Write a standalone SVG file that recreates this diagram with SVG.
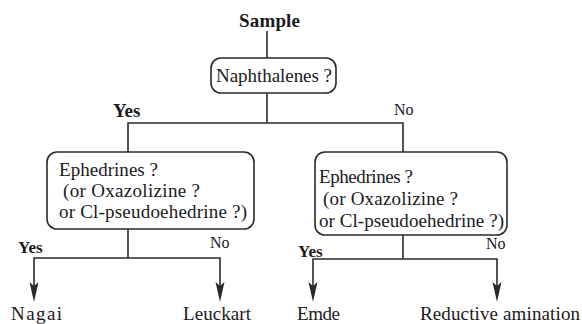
<svg xmlns="http://www.w3.org/2000/svg" width="582" height="324" viewBox="0 0 582 324" font-family="'Liberation Serif', Tinos, 'Noto Serif', 'DejaVu Serif', FreeSerif, 'Nimbus Roman', Times, serif">
<defs>
<style>
text{font-family:'Liberation Serif',Tinos,'Noto Serif','DejaVu Serif',FreeSerif,'Nimbus Roman',Times,serif;font-size:19px;fill:#1a1a1a}
.b{font-weight:bold;font-size:17px}
.s{font-size:16px}
.box{fill:#fff;stroke:#2a2a2a;stroke-width:1.6}
.ln{fill:none;stroke:#2a2a2a;stroke-width:1.6}
.ah{fill:#2a2a2a}
</style>
</defs>
<rect width="582" height="324" fill="#fff"/>
<g id="connectors">
<line class="ln" x1="267" y1="31" x2="267" y2="58"/>
<line class="ln" x1="267" y1="93" x2="267" y2="123"/>
<polyline class="ln" points="128,152 128,123 403,123 403,152"/>
<line class="ln" x1="128" y1="229" x2="128" y2="258"/>
<polyline class="ln" points="34,286 34,258 220,258 220,286"/>
<path class="ah" d="M29.5,282 L34,302 L38.5,282 L34,286 Z"/>
<path class="ah" d="M215.5,282 L220,302 L224.5,282 L220,286 Z"/>
<line class="ln" x1="403" y1="235" x2="403" y2="259"/>
<polyline class="ln" points="313,286 313,259 497,259 497,286"/>
<path class="ah" d="M308.5,282 L313,302 L317.5,282 L313,286 Z"/>
<path class="ah" d="M492.5,282 L497,302 L501.5,282 L497,286 Z"/>
<text class="b" x="113" y="117" style="font-size:19px">Yes</text>
<text class="s" x="394" y="115">No</text>
<text class="b" x="18" y="253">Yes</text>
<text class="s" x="210" y="248">No</text>
<text class="b" x="298" y="257">Yes</text>
<text class="s" x="486" y="249">No</text>
</g>
<g id="sample"><text class="b" x="239" y="27" textLength="61" style="font-size:19px">Sample</text></g>
<g id="naphthalenes">
<rect class="box" x="211" y="58" width="125" height="35" rx="10"/>
<text x="216" y="82" textLength="116">Naphthalenes ?</text>
</g>
<g id="ephedrines-left">
<rect class="box" x="47" y="152" width="207" height="77" rx="10"/>
<text x="59" y="176" textLength="99">Ephedrines ?</text>
<text x="63" y="197" textLength="137">(or Oxazolizine ?</text>
<text x="59" y="218" textLength="188">or Cl-pseudoehedrine ?)</text>
</g>
<g id="ephedrines-right">
<rect class="box" x="315" y="152" width="192" height="83" rx="10"/>
<text x="319" y="183" textLength="94">Ephedrines ?</text>
<text x="323" y="205" textLength="135">(or Oxazolizine ?</text>
<text x="319" y="227" textLength="185">or Cl-pseudoehedrine ?)</text>
</g>
<g id="nagai"><text x="11" y="320" textLength="51">Nagai</text></g>
<g id="leuckart"><text x="183" y="320" textLength="68">Leuckart</text></g>
<g id="emde"><text x="297" y="320" textLength="43">Emde</text></g>
<g id="reductive-amination"><text x="420" y="320" textLength="160">Reductive amination</text></g>
</svg>
